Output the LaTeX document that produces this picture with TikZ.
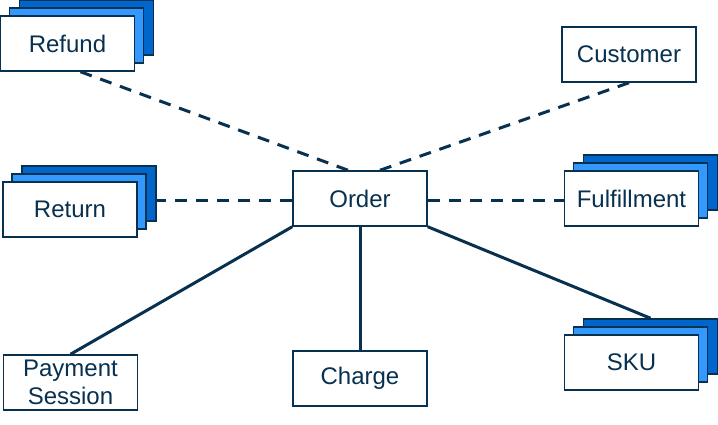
\documentclass[tikz,border=0pt]{standalone}
\usepackage{fontspec}
\setmainfont{Liberation Sans}
\definecolor{navy}{HTML}{08304F}
\definecolor{lightblue}{HTML}{3399FF}
\definecolor{darkblue}{HTML}{0066CC}

\begin{document}
\begin{tikzpicture}[x=1pt, y=-1pt,
            every node/.style={rectangle, draw=navy, line width=1.5pt, fill=white, text=navy,
                minimum width=134pt, minimum height=55pt, inner sep=0pt, align=center,
                font=\fontsize{24}{28.5}\selectfont},
            link/.style={draw=navy, line width=3pt},
            weak/.style={link, dash pattern=on 12pt off 9pt}]

            \useasboundingbox (0,0) rectangle (718,425);

            % stacked entities: back sheets first
            \foreach \name/\x/\y/\txt in {refund/67.5/43.5/Refund, return/70/209.5/Return,
                    fulfill/631.5/198.5/Fulfillment, sku/631.5/362.5/SKU}{
                \node[fill=darkblue] (\name-2) at (\x+19,\y-16) {};
                \node[fill=lightblue] (\name-1) at (\x+9,\y-8) {};
                \node (\name) at (\x,\y) {\txt};
            }

            \node (order) at (360,198.5) {Order};
            \node (customer) at (629,54.5) {Customer};
            \node (payment) at (70.5,382.5) {Payment\\Session};
            \node (charge) at (360,378.5) {Charge};

            \draw[weak] ([xshift=13pt]refund.south) -- ([xshift=-12pt]order.north);
            \draw[weak] (customer.south) -- ([xshift=20pt]order.north);
            \draw[weak] ([yshift=-2.5pt]order.west) -- ([yshift=-2.5pt]order.west -| return-2.east);
            \draw[weak] ([yshift=-2.5pt]order.east) -- ([yshift=-2.5pt]order.east -| fulfill.west);

            \draw[link] (order.south west) -- (payment.north);
            \draw[link] (order.south) -- (charge.north);
            \draw[link] (order.south east) -- (sku-2.north);
        \end{tikzpicture}
\end{document}
